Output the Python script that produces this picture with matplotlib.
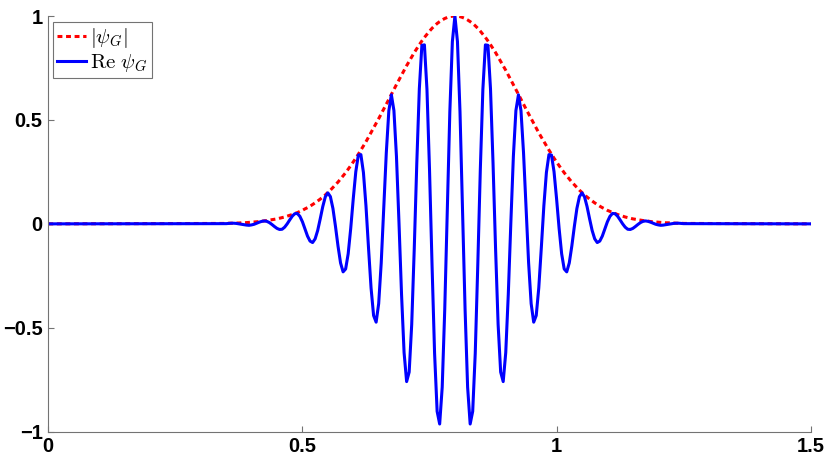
import numpy as np
import matplotlib
matplotlib.use('Agg')
import matplotlib.pyplot as plt

plt.rcParams['mathtext.fontset'] = 'cm'

# sample positions: flat zero outside 0.35..1.25, sampled every 0.005 inside
x_inner = np.linspace(0.35, 1.25, 181)
x = np.concatenate([[0.0], x_inner, [1.5]])

# Re psi_G
re_psi = [0.0,
    0.001, 0.002, 0.003, 0.003, 0.002, 0.000, -0.002, -0.004, -0.006, -0.007, -0.005,
    -0.002, 0.003, 0.008, 0.012, 0.014, 0.012, 0.006, -0.003, -0.013, -0.022,
    -0.027, -0.026, -0.016, 0.000, 0.019, 0.037, 0.049, 0.050, 0.036, 0.010,
    -0.024, -0.059, -0.083, -0.090, -0.072, -0.032, 0.024, 0.083, 0.130, 0.149,
    0.131, 0.074, -0.012, -0.107, -0.188, -0.231, -0.217, -0.144, -0.022, 0.121,
    0.251, 0.331, 0.333, 0.247, 0.087, -0.115, -0.308, -0.441, -0.473, -0.384,
    -0.188, 0.075, 0.342, 0.544, 0.621, 0.545, 0.324, 0.003, -0.340, -0.620,
    -0.759, -0.713, -0.484, -0.120, 0.292, 0.650, 0.859, 0.861, 0.647, 0.263,
    -0.198, -0.623, -0.902, -0.963, -0.786, -0.411, 0.070, 0.539, 0.877,
    1.000,
    0.877, 0.539, 0.070, -0.411, -0.786, -0.963, -0.902, -0.623, -0.198,
    0.263, 0.647, 0.861, 0.859, 0.650, 0.292, -0.120, -0.484, -0.713, -0.759,
    -0.620, -0.340, 0.003, 0.324, 0.545, 0.621, 0.544, 0.342, 0.075, -0.188,
    -0.384, -0.473, -0.441, -0.308, -0.115, 0.087, 0.247, 0.333, 0.331, 0.251,
    0.121, -0.022, -0.144, -0.217, -0.231, -0.188, -0.107, -0.012, 0.074, 0.131,
    0.149, 0.130, 0.083, 0.024, -0.032, -0.072, -0.090, -0.083, -0.059, -0.024,
    0.010, 0.036, 0.050, 0.049, 0.037, 0.019, 0.000, -0.016, -0.026, -0.027,
    -0.022, -0.013, -0.003, 0.006, 0.012, 0.014, 0.012, 0.008, 0.003, -0.002,
    -0.005, -0.007, -0.006, -0.004, -0.002, 0.000, 0.002, 0.003, 0.003, 0.002, 0.001,
    0.0]

# |psi_G| envelope
abs_psi = [0.0,
    0.002, 0.003, 0.003, 0.003, 0.004, 0.004, 0.005, 0.005, 0.006, 0.007, 0.008,
    0.009, 0.010, 0.011, 0.013, 0.014, 0.016, 0.018, 0.020, 0.022, 0.024,
    0.027, 0.030, 0.033, 0.037, 0.041, 0.045, 0.050, 0.054, 0.060, 0.065,
    0.072, 0.078, 0.085, 0.093, 0.101, 0.110, 0.119, 0.129, 0.139, 0.151,
    0.162, 0.175, 0.188, 0.201, 0.216, 0.231, 0.246, 0.263, 0.280, 0.298,
    0.316, 0.335, 0.355, 0.375, 0.395, 0.417, 0.438, 0.460, 0.483, 0.506,
    0.529, 0.552, 0.576, 0.599, 0.623, 0.646, 0.670, 0.693, 0.716, 0.739,
    0.761, 0.782, 0.803, 0.824, 0.843, 0.862, 0.880, 0.897, 0.912, 0.927,
    0.941, 0.953, 0.964, 0.973, 0.981, 0.988, 0.993, 0.997, 0.999,
    1.000,
    0.999, 0.997, 0.993, 0.988, 0.981, 0.973, 0.964, 0.953, 0.941,
    0.927, 0.912, 0.897, 0.880, 0.862, 0.843, 0.824, 0.803, 0.782, 0.761,
    0.739, 0.716, 0.693, 0.670, 0.646, 0.623, 0.599, 0.576, 0.552, 0.529,
    0.506, 0.483, 0.460, 0.438, 0.417, 0.395, 0.375, 0.355, 0.335, 0.316,
    0.298, 0.280, 0.263, 0.246, 0.231, 0.216, 0.201, 0.188, 0.175, 0.162,
    0.151, 0.139, 0.129, 0.119, 0.110, 0.101, 0.093, 0.085, 0.078, 0.072,
    0.065, 0.060, 0.054, 0.050, 0.045, 0.041, 0.037, 0.033, 0.030, 0.027,
    0.024, 0.022, 0.020, 0.018, 0.016, 0.014, 0.013, 0.011, 0.010, 0.009,
    0.008, 0.007, 0.006, 0.005, 0.005, 0.004, 0.004, 0.003, 0.003, 0.003, 0.002,
    0.0]

xticks = [0, 0.5, 1, 1.5]
xtick_labels = ['0', '0.5', '1', '1.5']
yticks = [-1, -0.5, 0, 0.5, 1]
ytick_labels = ['\u22121', '\u22120.5', '0', '0.5', '1']

fig = plt.figure(figsize=(8.3, 4.57), dpi=100)
ax = fig.add_axes([48.3 / 830, 1 - 431.7 / 457, (810.7 - 48.3) / 830, (431.7 - 16) / 457])

ax.plot(x, abs_psi, color='red', lw=2.2, dashes=(1.6, 1.2), label=r'$|\psi_G|$')
ax.plot(x, re_psi, color='blue', lw=2.2, label=r'$\mathrm{Re}\ \psi_G$')

ax.set_xlim(0, 1.5)
ax.set_ylim(-1, 1)
ax.set_xticks(xticks)
ax.set_xticklabels(xtick_labels)
ax.set_yticks(yticks)
ax.set_yticklabels(ytick_labels)

for side in ['top', 'right']:
    ax.spines[side].set_visible(False)
for side in ['left', 'bottom']:
    ax.spines[side].set_color('0.45')
    ax.spines[side].set_linewidth(0.8)

ax.tick_params(direction='in', length=4.5, width=0.8, color='0.45', pad=4)
for lab in ax.get_xticklabels() + ax.get_yticklabels():
    lab.set_fontfamily('Liberation Sans')
    lab.set_fontweight('bold')
    lab.set_fontsize(14.5)

leg = ax.legend(loc='upper left', bbox_to_anchor=(0.006, 0.986), borderaxespad=0,
                fontsize=15, handlelength=1.4, handletextpad=0.2,
                borderpad=0.2, labelspacing=0.1, fancybox=False, framealpha=1)
leg.get_frame().set_edgecolor('0.45')
leg.get_frame().set_linewidth(0.8)

fig.savefig('out.png', dpi=100)
